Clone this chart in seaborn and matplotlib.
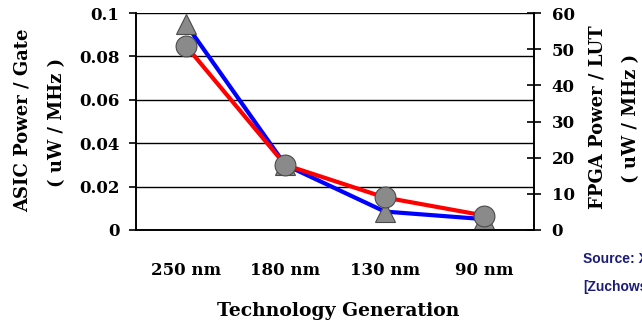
import numpy as np
import pandas as pd
import matplotlib
matplotlib.use("Agg")
import matplotlib.pyplot as plt
import seaborn as sns

categories = ['250 nm', '180 nm', '130 nm', '90 nm']
asic_power = [0.095, 0.030, 0.0085, 0.005]   # left axis, uW/MHz per gate
fpga_power = [51, 18, 9, 4]                  # right axis, uW/MHz per LUT
left_ticks = [0, 0.02, 0.04, 0.06, 0.08, 0.1]
left_labels = ['0', '0.02', '0.04', '0.06', '0.08', '0.1']
right_ticks = [0, 10, 20, 30, 40, 50, 60]

sns.set_style("white")
plt.rcParams['font.family'] = ['DejaVu Serif', 'Liberation Serif']
plt.rcParams['font.weight'] = 'bold'
plt.rcParams['text.color'] = 'black'
plt.rcParams['xtick.color'] = 'black'
plt.rcParams['ytick.color'] = 'black'
plt.rcParams['xtick.labelcolor'] = 'black'
plt.rcParams['ytick.labelcolor'] = 'black'

df = pd.DataFrame({'pos': np.arange(len(categories)), 'tech': categories,
                   'asic': asic_power, 'fpga': fpga_power})

W, H = 642, 326
fig = plt.figure(figsize=(W / 100, H / 100), dpi=100)
ax = fig.add_axes([136 / W, (H - 230) / H, (534 - 136) / W, 217 / H])
ax2 = ax.twinx()

marker_face = '#8a8a8a'
marker_edge = '#4a4a4a'

sns.lineplot(data=df, x='pos', y='asic', color='#0000ff', lw=3.0, ax=ax)
sns.lineplot(data=df, x='pos', y='fpga', color='#ff0000', lw=3.0, ax=ax2)
sns.lineplot(data=df, x='pos', y='asic', marker='^', markersize=15, linestyle='none',
             color=marker_face, markeredgecolor=marker_edge, markeredgewidth=0.8,
             transform=ax.transData, ax=ax2)
sns.lineplot(data=df, x='pos', y='fpga', marker='o', markersize=15, linestyle='none',
             color=marker_face, markeredgecolor=marker_edge, markeredgewidth=0.8, ax=ax2)

for a in (ax, ax2):
    a.set_xlim(-0.5, len(categories) - 0.5)
    a.set_xlabel('')
    a.set_ylabel('')
    a.spines['top'].set_visible(False)
    for s in ('left', 'right', 'bottom'):
        a.spines[s].set_color('black')
        a.spines[s].set_linewidth(1.2)

ax.set_ylim(0, 0.1)
ax2.set_ylim(0, 60)

ax.set_yticks(left_ticks)
ax.set_yticklabels(left_labels)
ax.tick_params(axis='y', direction='out', length=5, width=1.2, pad=7,
               labelsize=12, color='black', labelcolor='black')
ax.yaxis.grid(True, color='black', lw=1.0)
ax.set_axisbelow(True)

ax2.set_yticks(right_ticks)
ax2.tick_params(axis='y', direction='inout', length=9.5, width=1.2, pad=8,
                labelsize=12, color='black', labelcolor='black')

# category boundaries as ticks, names centred between them
ax.set_xticks(np.arange(len(categories) + 1) - 0.5)
ax.set_xticklabels([])
ax.set_xticks(np.arange(len(categories)), minor=True)
ax.set_xticklabels(categories, minor=True)
ax.tick_params(axis='x', which='major', direction='out', length=7, width=1.2, color='black')
ax.tick_params(axis='x', which='minor', length=0, pad=23, labelsize=12, labelcolor='black')
ax2.set_xticks([])

fig.text(23 / W, 1 - 120 / H, 'ASIC Power / Gate', rotation=90, ha='center', va='center',
         fontsize=13, fontweight='bold', color='black')
fig.text(57 / W, 1 - 122 / H, '( uW / MHz )', rotation=90, ha='center', va='center',
         fontsize=13, fontweight='bold', color='black')
fig.text(598 / W, 1 - 117 / H, 'FPGA Power / LUT', rotation=90, ha='center', va='center',
         fontsize=13, fontweight='bold', color='black')
fig.text(631 / W, 1 - 118 / H, '( uW / MHz )', rotation=90, ha='center', va='center',
         fontsize=13, fontweight='bold', color='black')
fig.text(338 / W, 1 - 311 / H, 'Technology Generation', ha='center', va='center',
         fontsize=13.5, fontweight='bold', color='black')

# source note runs off the right edge, as in the original slide crop
fig.text(583 / W, 1 - 259 / H, 'Source: Xilinx', ha='left', va='center', fontsize=10,
         fontweight='bold', color='#1c1c78', family=['Liberation Sans', 'DejaVu Sans'])
fig.text(583 / W, 1 - 287 / H, '[Zuchowski02]', ha='left', va='center', fontsize=10,
         fontweight='bold', color='#1c1c78', family=['Liberation Sans', 'DejaVu Sans'])

fig.savefig('out.png', dpi=100)
